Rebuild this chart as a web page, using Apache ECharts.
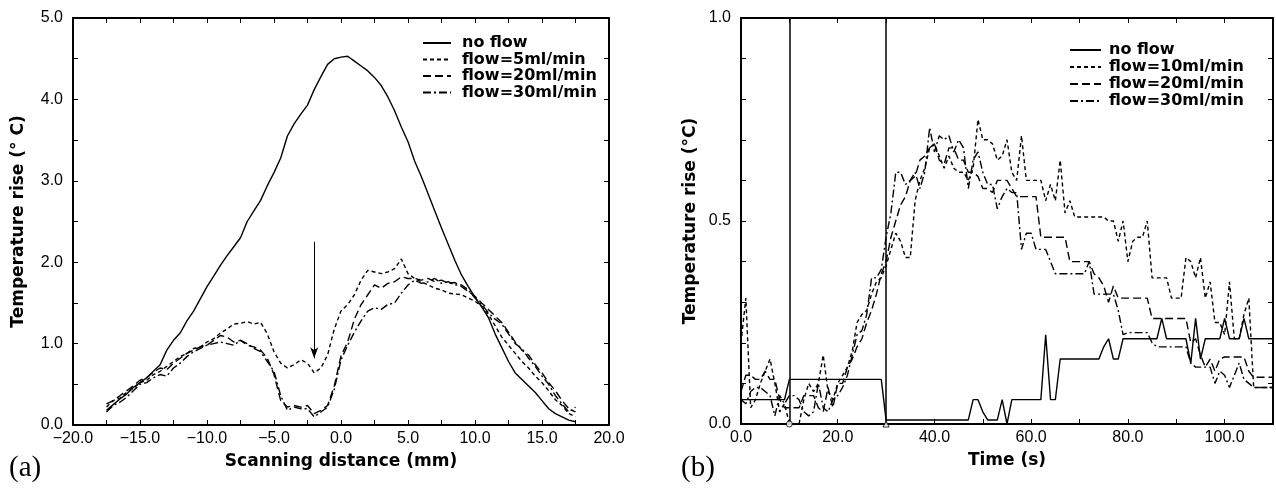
<!DOCTYPE html>
<html><head><meta charset="utf-8">
<script src="https://cdn.jsdelivr.net/npm/echarts@6/dist/echarts.min.js"></script>
<style>html,body{margin:0;padding:0;background:#fff}#c{width:1276px;height:488px}</style>
</head><body><div id="c"></div>
<script>
// ---------- Panel (a): scanning distance ----------
const distX = [-17.5,-17,-16.5,-16,-15.5,-15,-14.5,-14,-13.5,-13,-12.5,-12,-11.5,-11,-10.5,-10,-9.5,-9,-8.5,-8,-7.5,-7,-6.5,-6,-5.5,-5,-4.5,-4,-3.5,-3,-2.5,-2,-1.5,-1,-0.5,0,0.5,1,1.5,2,2.5,3,3.5,4,4.5,5,5.5,6,6.5,7,7.5,8,8.5,9,9.5,10,10.5,11,11.5,12,12.5,13,13.5,14,14.5,15,15.5,16,16.5,17,17.5];
const aNoFlow = [0.18,0.25,0.32,0.38,0.46,0.52,0.58,0.66,0.74,0.92,1.04,1.13,1.28,1.40,1.55,1.70,1.83,1.96,2.08,2.19,2.30,2.50,2.63,2.76,2.94,3.10,3.28,3.55,3.70,3.82,3.93,4.12,4.28,4.43,4.50,4.52,4.53,4.47,4.41,4.35,4.27,4.17,4.03,3.86,3.66,3.48,3.24,3.05,2.84,2.63,2.42,2.22,2.02,1.84,1.70,1.57,1.45,1.32,1.12,0.95,0.78,0.64,0.56,0.48,0.40,0.30,0.20,0.14,0.10,0.06,0.04];
const aFlow5 = [0.22,0.30,0.33,0.40,0.45,0.52,0.55,0.62,0.66,0.72,0.78,0.84,0.88,0.94,0.96,1.02,1.06,1.13,1.18,1.24,1.25,1.27,1.24,1.26,1.12,0.90,0.76,0.70,0.74,0.80,0.76,0.64,0.70,0.86,1.18,1.40,1.48,1.60,1.78,1.90,1.88,1.86,1.88,1.92,2.04,1.86,1.80,1.76,1.72,1.68,1.66,1.62,1.61,1.60,1.56,1.52,1.46,1.36,1.22,1.08,0.98,0.88,0.78,0.70,0.60,0.52,0.42,0.31,0.24,0.14,0.10];
const aFlow20 = [0.26,0.30,0.36,0.42,0.48,0.55,0.58,0.65,0.70,0.68,0.76,0.82,0.88,0.92,0.96,0.98,1.04,1.10,1.08,1.02,1.04,0.98,0.96,0.92,0.82,0.62,0.30,0.22,0.24,0.22,0.24,0.14,0.18,0.24,0.48,0.85,1.02,1.30,1.48,1.60,1.72,1.68,1.74,1.76,1.82,1.80,1.80,1.78,1.80,1.76,1.78,1.74,1.75,1.70,1.64,1.58,1.50,1.42,1.34,1.26,1.14,1.02,0.92,0.86,0.74,0.64,0.52,0.42,0.30,0.20,0.16];
const aFlow30 = [0.16,0.24,0.28,0.34,0.42,0.50,0.52,0.58,0.62,0.60,0.70,0.76,0.84,0.90,0.94,0.98,1.00,1.02,1.00,0.98,1.04,1.00,0.94,0.90,0.78,0.66,0.36,0.18,0.22,0.20,0.20,0.10,0.16,0.22,0.44,0.80,0.98,1.14,1.28,1.40,1.44,1.42,1.48,1.50,1.62,1.72,1.78,1.74,1.76,1.80,1.74,1.76,1.72,1.72,1.66,1.56,1.48,1.38,1.30,1.24,1.12,1.00,0.94,0.82,0.72,0.60,0.50,0.36,0.26,0.16,0.22];
const aArrowX = -2, aArrowFrom = 2.25, aArrowTo = 0.82;
const aNames = ['no flow','flow=5ml/min','flow=20ml/min','flow=30ml/min'];

// ---------- Panel (b): time ----------
const timeS = [0,1,2,3,4,5,6,7,8,9,10,11,12,13,14,15,16,17,18,19,20,21,22,23,24,25,26,27,28,29,30,31,32,33,34,35,36,37,38,39,40,41,42,43,44,45,46,47,48,49,50,51,52,53,54,55,56,57,58,59,60,61,62,63,64,65,66,67,68,69,70,71,72,73,74,75,76,77,78,79,80,81,82,83,84,85,86,87,88,89,90,91,92,93,94,95,96,97,98,99,100,101,102,103,104,105,106,107,108,109,110];
const bNoFlow = [0.06,0.06,0.06,0.06,0.06,0.06,0.06,0.06,0.06,0.06,
 0.11,0.11,0.11,0.11,0.11,0.11,0.11,0.11,0.11,0.11,
 0.11,0.11,0.11,0.11,0.11,0.11,0.11,0.11,0.11,0.11,
 0.01,0.01,0.01,0.01,0.01,0.01,0.01,0.01,0.01,0.01,
 0.01,0.01,0.01,0.01,0.01,0.01,0.01,0.01,0.06,0.06,
 0.03,0.01,0.01,0.01,0.06,0.00,0.06,0.06,0.06,0.06,
 0.06,0.06,0.06,0.22,0.06,0.06,0.16,0.16,0.16,0.16,
 0.16,0.16,0.16,0.16,0.16,0.19,0.21,0.16,0.16,0.21,
 0.21,0.21,0.21,0.21,0.21,0.21,0.21,0.26,0.21,0.21,
 0.21,0.21,0.21,0.15,0.26,0.16,0.21,0.21,0.21,0.21,
 0.26,0.21,0.21,0.21,0.26,0.21,0.21,0.21,0.21,0.21,0.21];
const bFlow10 = [0.20,0.31,0.04,0.06,0.10,0.13,0.16,0.10,0.03,0.05,
 0.00,0.00,0.00,0.06,0.10,0.08,0.10,0.17,0.08,0.06,
 0.10,0.12,0.14,0.18,0.25,0.27,0.28,0.32,0.35,0.36,
 0.39,0.43,0.47,0.45,0.41,0.41,0.55,0.60,0.63,0.68,
 0.69,0.66,0.63,0.66,0.63,0.62,0.62,0.60,0.63,0.75,
 0.70,0.70,0.69,0.65,0.66,0.70,0.62,0.60,0.71,0.60,
 0.60,0.60,0.60,0.55,0.59,0.55,0.65,0.52,0.55,0.51,
 0.51,0.51,0.51,0.51,0.51,0.51,0.50,0.50,0.45,0.50,
 0.40,0.45,0.46,0.46,0.50,0.36,0.36,0.36,0.36,0.31,
 0.31,0.31,0.41,0.40,0.36,0.41,0.31,0.35,0.25,0.25,
 0.22,0.35,0.21,0.21,0.27,0.31,0.09,0.09,0.09,0.09,0.09];
const bFlow20 = [0.08,0.12,0.12,0.11,0.11,0.13,0.11,0.11,0.06,0.04,
 0.04,0.04,0.04,0.07,0.07,0.07,0.04,0.03,0.09,0.04,
 0.10,0.10,0.14,0.16,0.19,0.21,0.25,0.28,0.32,0.37,
 0.40,0.46,0.50,0.54,0.56,0.60,0.61,0.65,0.66,0.68,
 0.69,0.65,0.64,0.68,0.68,0.65,0.65,0.62,0.62,0.61,
 0.58,0.58,0.57,0.60,0.60,0.60,0.58,0.56,0.56,0.56,
 0.56,0.56,0.46,0.46,0.46,0.46,0.46,0.46,0.40,0.40,
 0.40,0.40,0.40,0.37,0.36,0.34,0.30,0.34,0.31,0.31,
 0.31,0.31,0.31,0.31,0.31,0.26,0.26,0.26,0.26,0.26,
 0.26,0.26,0.26,0.20,0.21,0.17,0.14,0.16,0.13,0.16,
 0.165,0.165,0.165,0.165,0.165,0.13,0.115,0.115,0.115,0.115,0.115];
const bFlow30 = [0.06,0.05,0.08,0.09,0.09,0.08,0.07,0.02,0.07,0.05,
 0.07,0.07,0.06,0.03,0.02,0.03,0.10,0.04,0.03,0.06,
 0.07,0.09,0.12,0.17,0.22,0.23,0.27,0.36,0.36,0.38,
 0.46,0.52,0.62,0.62,0.59,0.60,0.62,0.58,0.62,0.73,
 0.67,0.71,0.70,0.71,0.67,0.70,0.68,0.58,0.65,0.67,
 0.62,0.59,0.59,0.53,0.56,0.58,0.57,0.57,0.43,0.47,
 0.47,0.43,0.43,0.43,0.40,0.37,0.37,0.37,0.37,0.37,
 0.37,0.37,0.40,0.32,0.32,0.32,0.32,0.32,0.28,0.22,
 0.225,0.225,0.225,0.225,0.225,0.20,0.19,0.19,0.19,0.19,
 0.19,0.19,0.19,0.15,0.14,0.14,0.14,0.14,0.10,0.13,
 0.12,0.09,0.12,0.15,0.11,0.10,0.09,0.09,0.09,0.09,0.09];
const bMarkT = [10, 30];
const bNames = ['no flow','flow=10ml/min','flow=20ml/min','flow=30ml/min'];

const styles = [
  {type:'solid', width:1.4},
  {type:[4,3], width:1.4},
  {type:[8,4], width:1.4},
  {type:[8,3,2,3], width:1.4}
];

const tickFont = {fontFamily:'Liberation Sans, Arial, sans-serif', fontSize:16, color:'#000'};
const titleFont = {fontFamily:'DejaVu Sans, sans-serif', fontSize:17, fontWeight:'bold', color:'#000'};

function frameAxis(base) {
  return Object.assign({
    axisLine:{show:true, onZero:false, lineStyle:{color:'#000', width:2}},
    axisTick:{show:true, inside:true, length:5, lineStyle:{color:'#000', width:1}},
    splitLine:{show:false},
  }, base);
}
function fmtA_x(v){ if (Math.abs(v % 5) > 1e-6) return ''; return (v < 0 ? '\u2212' : '') + Math.abs(v).toFixed(1); }
function fmtA_y(v){ if (Math.abs(v - Math.round(v)) > 1e-6) return ''; return v.toFixed(1); }
function fmtB_x(v){ if (Math.abs(v % 20) > 1e-6) return ''; return v.toFixed(1); }
function fmtB_y(v){ if (Math.abs(v*2 - Math.round(v*2)) > 1e-6) return ''; return v.toFixed(1); }

const pairs = (xs, ys) => xs.map((x,i) => [x, ys[i]]);

const chart = echarts.init(document.getElementById('c'), null, {renderer:'canvas'});
const aSeries = [aNoFlow, aFlow5, aFlow20, aFlow30].map((d,i) => ({
  name: aNames[i], type:'line', xAxisIndex:0, yAxisIndex:0,
  data: pairs(distX, d), symbol:'none', showSymbol:false,
  lineStyle: Object.assign({color:'#000'}, styles[i]), itemStyle:{color:'#000'},
  z: 3
}));
aSeries[0].markLine = {
  silent:true, symbol:['none','arrow'], symbolSize:[6,11],
  lineStyle:{color:'#000', type:'solid', width:1},
  label:{show:false},
  data:[[{coord:[aArrowX, aArrowFrom]}, {coord:[aArrowX, aArrowTo]}]]
};
const bSeries = [bNoFlow, bFlow10, bFlow20, bFlow30].map((d,i) => ({
  name: bNames[i], type:'line', xAxisIndex:2, yAxisIndex:2,
  data: pairs(timeS, d), symbol:'none', showSymbol:false,
  lineStyle: Object.assign({color:'#000'}, styles[i]), itemStyle:{color:'#000'},
  z: 3
}));
bSeries[0].markLine = {
  silent:true, symbol:'none',
  lineStyle:{color:'#000', type:'solid', width:1.5},
  label:{show:false},
  data: bMarkT.map(t => ({xAxis:t}))
};
bSeries.push({
  name:'markers', type:'scatter', xAxisIndex:2, yAxisIndex:2, clip:false,
  data: [{value:[bMarkT[0],0], symbol:'circle'}, {value:[bMarkT[1],0], symbol:'triangle'}],
  symbolSize:6, itemStyle:{color:'#fff', borderColor:'#000', borderWidth:1}, z:5
});

const legendText = {fontFamily:'DejaVu Sans, sans-serif', fontSize:16, fontWeight:'bold', color:'#000', lineHeight:16};

chart.setOption({
  animation:false,
  backgroundColor:'#fff',
  title:[
    {text:'(a)', left:4, top:449, textStyle:{fontFamily:'Liberation Serif, serif', fontSize:29, fontWeight:'normal', color:'#000'}},
    {text:'(b)', left:676, top:449, textStyle:{fontFamily:'Liberation Serif, serif', fontSize:29, fontWeight:'normal', color:'#000'}}
  ],
  legend:[
    {data:aNames, orient:'vertical', left:417, top:30, itemWidth:28, itemHeight:10, itemGap:0.5,
     itemStyle:{opacity:0}, textStyle:Object.assign({padding:[0,0,0,6]}, legendText), selectedMode:false},
    {data:bNames, orient:'vertical', left:1064, top:37, itemWidth:31, itemHeight:10, itemGap:1,
     itemStyle:{opacity:0}, textStyle:Object.assign({padding:[0,0,0,3]}, legendText), selectedMode:false}
  ],
  grid:[
    {left:73, top:18, width:536, height:407, containLabel:false},
    {left:741, top:18, width:534, height:406, containLabel:false}
  ],
  xAxis:[
    frameAxis({gridIndex:0, type:'value', position:'bottom', min:-20, max:20, interval:2.5,
      name:'Scanning distance (mm)', nameLocation:'middle', nameGap:28, nameTextStyle:titleFont,
      axisLabel:Object.assign({formatter:fmtA_x, margin:6, showMinLabel:true, showMaxLabel:true}, tickFont)}),
    frameAxis({gridIndex:0, type:'value', position:'top', min:-20, max:20, interval:2.5, axisLabel:{show:false}}),
    frameAxis({gridIndex:1, type:'value', position:'bottom', min:0, max:110, interval:10,
      name:'Time (s)', nameLocation:'middle', nameGap:28, nameTextStyle:titleFont,
      axisLabel:Object.assign({formatter:fmtB_x, margin:6, showMinLabel:true, showMaxLabel:true}, tickFont)}),
    frameAxis({gridIndex:1, type:'value', position:'top', min:0, max:110, interval:10, axisLabel:{show:false}})
  ],
  yAxis:[
    frameAxis({gridIndex:0, type:'value', position:'left', min:0, max:5, interval:0.5,
      name:'Temperature rise (\u00b0 C)', nameLocation:'middle', nameGap:46, nameTextStyle:titleFont,
      axisLabel:Object.assign({formatter:fmtA_y, margin:10}, tickFont)}),
    frameAxis({gridIndex:0, type:'value', position:'right', min:0, max:5, interval:0.5, axisLabel:{show:false}}),
    frameAxis({gridIndex:1, type:'value', position:'left', min:0, max:1, interval:0.1,
      name:'Temperature rise (\u00b0C)', nameLocation:'middle', nameGap:42, nameTextStyle:titleFont,
      axisLabel:Object.assign({formatter:fmtB_y, margin:10}, tickFont)}),
    frameAxis({gridIndex:1, type:'value', position:'right', min:0, max:1, interval:0.1, axisLabel:{show:false}})
  ],
  series: aSeries.concat(bSeries)
});
</script>
</body></html>
